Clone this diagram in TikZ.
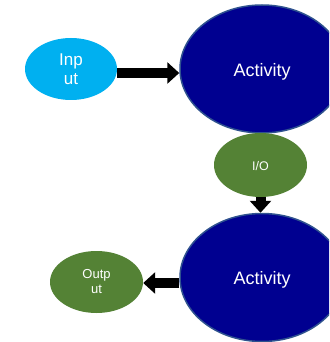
\documentclass[tikz,border=0pt]{standalone}
\usepackage{fontspec}
\setmainfont{Liberation Sans}
\usetikzlibrary{shapes.geometric,arrows.meta,backgrounds}
\definecolor{inblue}{RGB}{0,176,240}
\definecolor{actblue}{RGB}{0,0,144}
\definecolor{actedge}{RGB}{47,82,143}
\definecolor{iogreen}{RGB}{84,130,53}
\tikzset{
  blob/.style={ellipse, inner sep=0pt, text=white, align=center},
  activity/.style={blob, fill=actblue, draw=actedge, line width=1.5pt,
    minimum width=164pt, minimum height=128pt, text height=18.5pt,
    font=\fontsize{18}{21}\selectfont},
  inputblob/.style={blob, fill=inblue, minimum width=92pt, minimum height=62pt,
    font=\fontsize{17}{19.5}\selectfont},
  greenblob/.style={blob, fill=iogreen, minimum width=93pt},
  bigarrow/.style={line width=10pt, -{Triangle[length=12pt,width=21pt]}},
  shaft/.style={line width=11pt}
}
\begin{document}
\begin{tikzpicture}[x=1pt,y=-1pt]
  \useasboundingbox (0,0) rectangle (329,342);
  \clip (0,0) rectangle (329,342);
  \fill[white] (0,0) rectangle (329,342);

  % process nodes
  \node[inputblob] (in) at (71,69) {Inp\\ut};
  \node[activity] (act1) at (262,69) {Activity};
  \node[greenblob, minimum height=64pt, text height=12pt,
        font=\fontsize{12.5}{15}\selectfont] (io) at (260.5,165) {I/O};
  \node[activity] (act2) at (262,277.5) {Activity};
  \node[greenblob, minimum height=62pt, font=\fontsize{13}{15}\selectfont] (out) at (96.5,282) {Outp\\ut};

  % flow arrows
  \begin{scope}[on background layer]
    \draw[shaft] (act1.center) -- (io.center);
  \end{scope}
  \draw[bigarrow] ([yshift=-4pt]in.east) -- ([yshift=-4pt]in.east -| act1.west);
  \draw[bigarrow] (io.south) -- (io.south |- act2.north);
  \draw[bigarrow] ([yshift=-1pt]out.east -| act2.west) -- ([yshift=-1pt]out.east);
\end{tikzpicture}
\end{document}
